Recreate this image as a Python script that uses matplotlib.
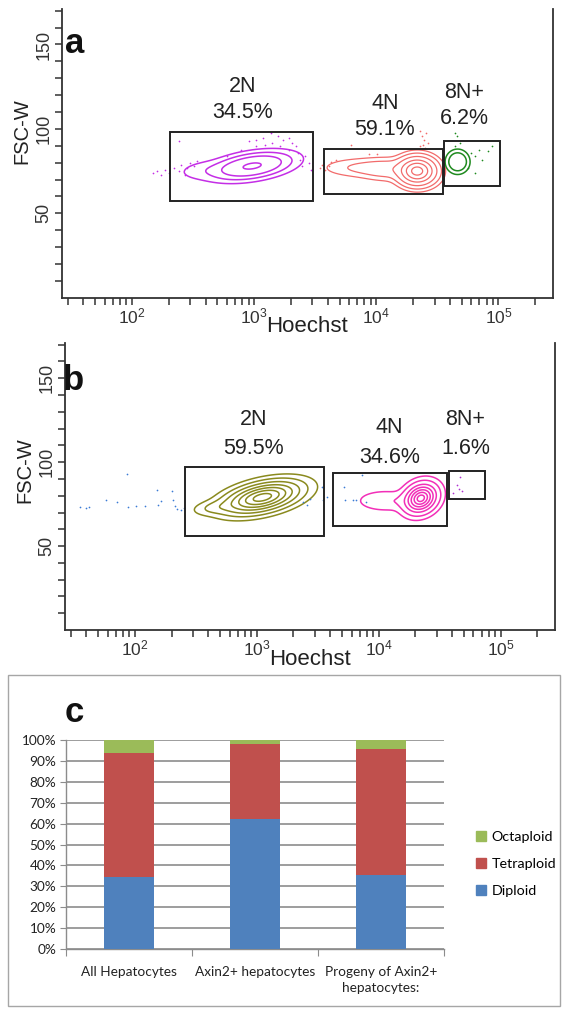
import numpy as np
import matplotlib
matplotlib.use('Agg')
import matplotlib.pyplot as plt
from matplotlib.patches import Rectangle
from matplotlib.ticker import FixedLocator, NullFormatter, FuncFormatter

plt.rcParams['font.family'] = ['Liberation Sans', 'DejaVu Sans']
plt.rcParams['mathtext.fontset'] = 'custom'
plt.rcParams['mathtext.rm'] = 'Liberation Sans'

# ---------------- data: flow cytometry panels ----------------
GATE_NAMES = ['2N', '4N', '8N+']
A_PCT = ['34.5%', '59.1%', '6.2%']
B_PCT = ['59.5%', '34.6%', '1.6%']

# gate rectangles: Hoechst (low, high), FSC-W (low, high)
A_GATE_X = [(206, 3010), (3700, 35400), (36100, 103800)]
A_GATE_Y = [(57.0, 98.0), (61.6, 88.1), (66.3, 92.9)]
B_GATE_X = [(260, 3580), (4250, 36300), (37900, 75300)]
B_GATE_Y = [(55.8, 97.0), (62.1, 93.7), (77.9, 94.7)]

# gate label anchors (Hoechst, FSC-W of name line, FSC-W of percentage line)
A_LABEL_X = [804, 11770, 52400]
A_LABEL_Y_NAME = [125.3, 115.0, 121.4]
A_LABEL_Y_PCT = [109.9, 99.6, 105.9]
B_LABEL_X = [937, 12250, 51600]
B_LABEL_Y_NAME = [125.7, 120.4, 125.7]
B_LABEL_Y_PCT = [108.3, 103.0, 108.3]

# population density components:
# (log10 Hoechst centre, FSC-W centre, log10 spread, FSC-W spread, correlation, weight)
A_2N_COMP = [(2.984, 78.0, 0.145, 3.6, 0.40, 1.00), (2.623, 75.5, 0.124, 3.0, 0.20, 0.05)]
A_2N_LEVELS = [0.015, 0.08, 0.26, 0.88]
A_4N_COMP = [(4.336, 75.0, 0.078, 4.2, 0.0, 1.00), (3.892, 77.0, 0.175, 3.0, 0.0, 0.05),
             (4.098, 76.0, 0.124, 3.5, 0.0, 0.07)]
A_4N_LEVELS = [0.012, 0.04, 0.12, 0.30, 0.55, 0.85]
A_8N_COMP = [(4.666, 80.5, 0.057, 4.2, 0.0, 1.00)]
A_8N_LEVELS = [0.20, 0.45]
B_2N_COMP = [(3.046, 79.0, 0.162, 5.0, 0.45, 1.00), (2.663, 73.0, 0.10, 2.5, 0.30, 0.08)]
B_2N_LEVELS = [0.02, 0.07, 0.17, 0.32, 0.50, 0.70, 0.90]
B_4N_COMP = [(4.347, 78.5, 0.076, 5.0, 0.20, 1.00), (4.055, 77.0, 0.131, 3.5, 0.0, 0.10)]
B_4N_LEVELS = [0.03, 0.10, 0.25, 0.42, 0.60, 0.78, 0.93]

# sparse events (log10 Hoechst, FSC-W)
A_2N_DOTS_LX = [2.172, 2.207, 2.237, 2.273, 2.303, 2.342, 2.382, 2.402, 2.432, 2.453, 2.477, 2.507,
                2.536, 2.382, 2.776, 2.895, 2.955, 3.015, 3.075, 3.135, 3.149, 3.195, 3.239, 3.284,
                3.314, 3.344, 3.359, 3.374, 3.388, 3.418, 3.448, 3.464, 3.015, 3.090, 3.209, 3.284]
A_2N_DOTS_Y = [73.9, 74.9, 72.9, 75.4, 73.9, 76.8, 74.9, 78.8, 72.9, 76.8, 79.8, 77.8,
               80.8, 92.7, 83.8, 87.7, 92.7, 93.7, 94.7, 97.6, 91.7, 95.6, 93.7, 94.7,
               91.7, 89.7, 85.7, 81.8, 77.8, 83.8, 79.8, 75.8, 89.7, 90.7, 89.7, 87.7]
A_4N_DOTS_LX = [3.538, 3.553, 3.583, 3.613, 3.628, 3.673, 3.793, 3.942, 4.002, 4.360, 4.375,
                4.390, 4.405, 4.385, 4.355, 4.420, 4.396]
A_4N_DOTS_Y = [76.8, 78.8, 75.8, 78.2, 80.2, 81.8, 90.7, 85.3, 85.3, 98.6, 95.6,
               93.7, 97.6, 90.7, 89.7, 91.7, 88.7]
A_8N_DOTS_LX = [4.645, 4.659, 4.683, 4.645, 4.779, 4.809, 4.839, 4.868, 4.914, 4.944, 4.749, 4.809]
A_8N_DOTS_Y = [97.6, 95.6, 91.7, 89.7, 85.7, 83.8, 87.7, 81.8, 86.7, 89.7, 76.8, 73.9]
B_BLUE_DOTS_LX = [1.551, 1.597, 1.626, 1.767, 1.851, 1.936, 1.942, 2.007, 2.086, 2.182, 2.191,
                  2.212, 2.302, 2.314, 2.326, 2.347, 2.376, 2.406, 3.532, 3.547, 3.578, 3.712,
                  3.728, 3.787, 3.863, 3.818, 3.893, 3.379, 3.409, 3.440]
B_BLUE_DOTS_Y = [73.3, 72.9, 73.3, 77.2, 76.2, 92.7, 73.3, 73.7, 73.7, 83.6, 74.3,
                 76.6, 82.8, 77.2, 74.1, 71.9, 71.7, 72.9, 85.1, 77.2, 79.2, 85.1,
                 77.6, 77.2, 92.1, 77.2, 76.2, 76.0, 74.5, 78.0]
B_8N_DOTS_LX = [4.643, 4.658, 4.680, 4.667, 4.614]
B_8N_DOTS_Y = [86.1, 84.2, 82.8, 91.1, 81.8]

X_LIM = (26.7, 280000)
Y_LIM = (0, 171)

# ---------------- data: bar chart ----------------
CATEGORIES = ['All Hepatocytes', 'Axin2+ hepatocytes', 'Progeny of Axin2+\nhepatocytes:']
DIPLOID = [34.5, 62.1, 35.2]
TETRAPLOID = [59.3, 36.1, 60.7]
OCTAPLOID = [6.2, 1.8, 4.1]
PCT_TICKS = [0, 10, 20, 30, 40, 50, 60, 70, 80, 90, 100]

# ---------------- figure ----------------
W, H = 570, 1016
fig = plt.figure(figsize=(W / 100, H / 100), dpi=100)


def px_axes(l, t, r, b):
    return fig.add_axes([l / W, 1 - b / H, (r - l) / W, (b - t) / H])


LXG = np.linspace(1.4, 5.45, 700)
YG = np.linspace(0, 171, 500)
GX, GY = np.meshgrid(LXG, YG)


def density(comps):
    Z = np.zeros_like(GX)
    for mx, my, sx, sy, rho, w in comps:
        dx = (GX - mx) / sx
        dy = (GY - my) / sy
        q = (dx * dx - 2 * rho * dx * dy + dy * dy) / (1 - rho * rho)
        Z += w * np.exp(-0.5 * q)
    return Z / Z.max()


def style_flow(ax, letter, letter_xy, fsc_y):
    ax.set_xscale('log')
    ax.set_xlim(*X_LIM)
    ax.set_ylim(*Y_LIM)
    for s in ['left', 'bottom', 'right']:
        ax.spines[s].set_color('#333333')
        ax.spines[s].set_linewidth(1.3)
    ax.spines['top'].set_visible(False)
    ax.xaxis.set_major_locator(FixedLocator([1e2, 1e3, 1e4, 1e5]))
    minors = [m * 10 ** e for e in range(1, 6) for m in range(2, 10)
              if X_LIM[0] <= m * 10 ** e <= X_LIM[1]]
    ax.xaxis.set_minor_locator(FixedLocator(minors))
    ax.xaxis.set_major_formatter(FuncFormatter(
        lambda v, p: r'$\mathregular{10^{%d}}$' % int(round(np.log10(v)))))
    ax.xaxis.set_minor_formatter(NullFormatter())
    ax.yaxis.set_major_locator(FixedLocator([50, 100, 150]))
    ax.yaxis.set_minor_locator(FixedLocator([v for v in range(10, 171, 10) if v % 50]))
    ax.tick_params(which='both', direction='out', length=5, width=1.1, color='#333333')
    ax.tick_params(axis='x', which='major', labelsize=12.5, pad=1, colors='#333333')
    ax.tick_params(axis='y', which='major', labelsize=13, pad=2, colors='#333333')
    for lab in ax.get_yticklabels():
        lab.set_rotation(90)
        lab.set_va('center')
    ax.set_xlabel('Hoechst', fontsize=16, color='#222222', labelpad=-7)
    ax.text(-0.081, fsc_y, 'FSC-W', transform=ax.get_yaxis_transform(), rotation=90,
            ha='center', va='center', fontsize=14.5, color='#222222')
    ax.text(letter_xy[0], letter_xy[1], letter, transform=ax.transAxes, fontsize=25,
            fontweight='bold', ha='left', va='center', color='#111111')


def gates(ax, gx, gy, lx, lyn, lyp, pct):
    for (x0, x1), (y0, y1) in zip(gx, gy):
        ax.add_patch(Rectangle((x0, y0), x1 - x0, y1 - y0, fill=False,
                               edgecolor='#222222', linewidth=1.4, zorder=5))
    for x, yn, yp, n, p in zip(lx, lyn, lyp, GATE_NAMES, pct):
        ax.text(x, yn, n, ha='center', va='center', fontsize=15.5, color='#222222')
        ax.text(x, yp, p, ha='center', va='center', fontsize=15.5, color='#222222')


def pop(ax, comps, levels, color, lw=1.0):
    Z = density(comps)
    ax.contour(10 ** GX, GY, Z, levels=levels, colors=color, linewidths=lw)


def dots(ax, lxs, ys, color):
    ax.scatter(10 ** np.array(lxs), ys, s=1.5, color=color, linewidths=0, zorder=3)


# ---- panel a ----
axa = px_axes(62, 9, 553, 297.7)
style_flow(axa, 'a', (0.006, 0.88), 98.5)
pop(axa, A_2N_COMP, A_2N_LEVELS, '#C42EE6', 1.1)
pop(axa, A_4N_COMP, A_4N_LEVELS, '#F26B6B', 0.9)
pop(axa, A_8N_COMP, A_8N_LEVELS, '#1F8A1F', 1.1)
dots(axa, A_2N_DOTS_LX, A_2N_DOTS_Y, '#C42EE6')
dots(axa, A_4N_DOTS_LX, A_4N_DOTS_Y, '#F26B6B')
dots(axa, A_8N_DOTS_LX, A_8N_DOTS_Y, '#1F8A1F')
gates(axa, A_GATE_X, A_GATE_Y, A_LABEL_X, A_LABEL_Y_NAME, A_LABEL_Y_PCT, A_PCT)

# ---- panel b ----
axb = px_axes(65, 343, 555, 630)
style_flow(axb, 'b', (-0.004, 0.87), 95)
pop(axb, B_2N_COMP, B_2N_LEVELS, '#8A8A1E', 1.1)
pop(axb, B_4N_COMP, B_4N_LEVELS, '#F22FB8', 1.1)
dots(axb, B_BLUE_DOTS_LX, B_BLUE_DOTS_Y, '#3A7BD5')
dots(axb, B_8N_DOTS_LX, B_8N_DOTS_Y, '#B030D0')
gates(axb, B_GATE_X, B_GATE_Y, B_LABEL_X, B_LABEL_Y_NAME, B_LABEL_Y_PCT, B_PCT)

# ---- panel c ----
fig.add_artist(Rectangle((8 / W, 1 - 1006 / H), (560 - 8) / W, (1006 - 675) / H,
                         transform=fig.transFigure, fill=False,
                         edgecolor='#A6A6A6', linewidth=1.0))
fig.text(65 / W, 1 - 713 / H, 'c', fontsize=25, fontweight='bold', ha='left',
         va='center', color='#111111')

axc = px_axes(66, 740, 444, 949)
x = np.arange(len(CATEGORIES))
bw = 0.4
d = np.array(DIPLOID)
t = np.array(TETRAPLOID)
o = np.array(OCTAPLOID)
axc.bar(x, d, bw, color='#4F81BD', label='Diploid', zorder=3)
axc.bar(x, t, bw, bottom=d, color='#C0504D', label='Tetraploid', zorder=3)
axc.bar(x, o, bw, bottom=d + t, color='#9BBB59', label='Octaploid', zorder=3)
axc.set_xlim(-0.5, len(CATEGORIES) - 0.5)
axc.set_ylim(0, 100)
axc.set_yticks(PCT_TICKS)
axc.set_yticklabels(['%d%%' % v for v in PCT_TICKS], fontfamily='Lato', fontsize=9.8,
                    color='#222222')
axc.yaxis.grid(True, color='#8C8C8C', linewidth=1.2, zorder=0)
axc.set_axisbelow(True)
for s in ['top', 'right']:
    axc.spines[s].set_visible(False)
for s in ['left', 'bottom']:
    axc.spines[s].set_color('#8C8C8C')
    axc.spines[s].set_linewidth(1.0)
axc.set_xticks(np.arange(-0.5, len(CATEGORIES), 1.0))
axc.set_xticklabels([])
axc.set_xticks(x, minor=True)
axc.set_xticklabels(CATEGORIES, minor=True, fontfamily='Lato', fontsize=9.8,
                    color='#222222', linespacing=1.45)
axc.tick_params(axis='x', which='major', length=5, color='#8C8C8C', direction='out')
axc.tick_params(axis='x', which='minor', length=0, pad=12)
axc.tick_params(axis='y', length=4, color='#8C8C8C', pad=3)

handles = [Rectangle((0, 0), 1, 1, color='#9BBB59'),
           Rectangle((0, 0), 1, 1, color='#C0504D'),
           Rectangle((0, 0), 1, 1, color='#4F81BD')]
fig.legend(handles, ['Octaploid', 'Tetraploid', 'Diploid'],
           loc='center left', bbox_to_anchor=(463 / W, 1 - 864 / H),
           frameon=False, handlelength=0.7, handleheight=0.7, handletextpad=0.4,
           labelspacing=1.05, prop={'family': 'Lato', 'size': 10.3})

fig.savefig('out.png', dpi=100)
